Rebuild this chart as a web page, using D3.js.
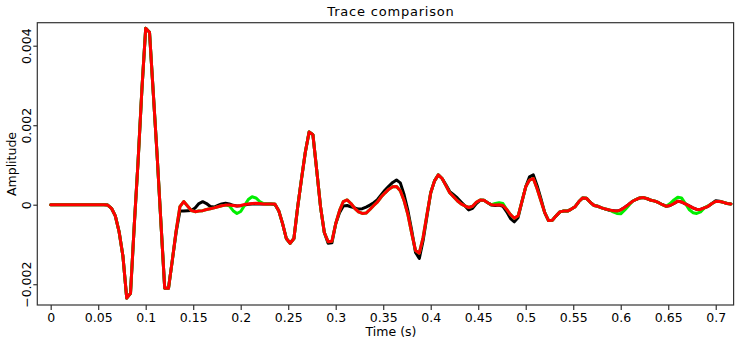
<!DOCTYPE html>
<html>
<head>
<meta charset="utf-8">
<script src="https://cdn.jsdelivr.net/npm/d3@7"></script>
<style>
  html, body { margin: 0; padding: 0; background: #fff; }
  svg { display: block; }
  text { font-family: "DejaVu Sans", sans-serif; fill: #000; }
</style>
</head>
<body>
<svg id="chart" width="736" height="341"></svg>
<script>
// ---- data ----
const sampleInterval = 0.004; // seconds between samples
const xTicks = [0, 0.05, 0.1, 0.15, 0.2, 0.25, 0.3, 0.35, 0.4, 0.45, 0.5, 0.55, 0.6, 0.65, 0.7];
const xTickLabels = ["0","0.05","0.1","0.15","0.2","0.25","0.3","0.35","0.4","0.45","0.5","0.55","0.6","0.65","0.7"];
const yTicks = [-0.002, 0, 0.002, 0.004];
const yTickLabels = ["\u22120.002", "0", "0.002", "0.004"];
const titleText = "Trace comparison";
const xLabel = "Time (s)";
const yLabel = "Amplitude";

const blackTrace = [
  0,0,0,0,0,0,0,0,0,0,
  0,0,0,0,0,-0.00001,-0.00009,-0.00028,-0.00068,-0.00129,
  -0.00235,-0.00223,-0.0005,0.0011,0.0029,0.00444,0.00434,0.0028,0.00125,-0.00044,
  -0.0021,-0.0021,-0.0014,-0.0007,-0.00016,-0.00016,-0.00015,-0.000145,-0.00008,0.00003,
  0.000075,0.00003,-0.000045,-0.00006,-0.00002,0.00002,0.000035,0.00002,-0.000015,-0.00003,
  -0.000025,-0.00001,0.00001,0.00002,0.00002,0.00002,0.00002,0.00002,0.00002,0.000005,
  -0.00015,-0.00047,-0.00085,-0.00097,-0.00085,-0.00005,0.00065,0.00132,0.00183,0.00176,
  0.00087,-0.00005,-0.0007,-0.00097,-0.00096,-0.00048,-0.0002,-0.00003,-0.00002,-0.00005,
  -0.00008,-0.00011,-0.0001,-0.00006,-0.00001,0.00005,0.00013,0.00025,0.00037,0.00047,
  0.00056,0.00062,0.00055,0.00025,-0.00015,-0.00065,-0.0012,-0.00135,-0.0009,-0.0003,
  0.0003,0.0006,0.00075,0.00066,0.0005,0.00033,0.00025,0.00017,0.00007,-0.00003,
  -0.00013,-0.00009,0.00003,0.00011,0.00011,0.00005,-0.00001,-0.00002,-0.00001,-0.00004,
  -0.00018,-0.00035,-0.00043,-0.00032,0.00008,0.00045,0.0007,0.00075,0.00048,0.00015,
  -0.0002,-0.0004,-0.00039,-0.00028,-0.00018,-0.00016,-0.00016,-0.00011,-0.00005,0.00008,
  0.00017,0.00016,0.00006,-0.00002,-0.00004,-0.00008,-0.00011,-0.00014,-0.00015,-0.00016,
  -0.00013,-0.00007,0,0.00008,0.00013,0.00017,0.00018,0.00015,0.00011,0.00009,
  0.00005,0,-0.00004,-0.00002,0.00003,0.00009,0.00007,0.00002,-0.00003,-0.00008,
  -0.00012,-0.00012,-0.00008,-0.00004,0.00003,0.0001,0.00009,0.00006,0.00003,0.00002
];

const greenTrace = [
  0,0,0,0,0,0,0,0,0,0,
  0,0,0,0,0,-0.00001,-0.00009,-0.00028,-0.00068,-0.00129,
  -0.00235,-0.00223,-0.0005,0.0011,0.0029,0.00444,0.00434,0.0028,0.00125,-0.00044,
  -0.0021,-0.0021,-0.0014,-0.00066,-0.00005,0.00008,-0.00003,-0.000145,-0.000175,-0.00016,
  -0.00015,-0.00012,-0.0001,-0.00008,-0.00005,-0.000025,-0.00001,-0.00003,-0.00015,-0.00022,
  -0.00017,-0.00002,0.00013,0.0002,0.00017,0.00008,0.00003,0.00002,0.00002,0.00002,
  -0.00015,-0.00047,-0.00085,-0.00097,-0.00085,-0.00005,0.00065,0.00132,0.00183,0.00176,
  0.00087,-0.00005,-0.0007,-0.00093,-0.00092,-0.00048,-0.00015,0.00008,0.00012,0.00003,
  -0.00009,-0.00018,-0.00022,-0.00021,-0.00012,-0.00002,0.00007,0.0002,0.0003,0.00039,
  0.00045,0.00046,0.00035,0.0001,-0.00025,-0.00072,-0.00115,-0.00122,-0.00082,-0.00025,
  0.0003,0.0006,0.00075,0.00066,0.00048,0.0003,0.0002,0.0001,0.00002,-0.00003,
  -0.00007,-0.00004,0.00006,0.00012,0.00011,0.00005,0,0.00003,0.00005,0.00003,
  -0.00012,-0.00025,-0.00034,-0.00028,0.00008,0.00045,0.00062,0.00066,0.0004,0.0001,
  -0.0002,-0.0004,-0.00039,-0.00028,-0.00018,-0.00016,-0.00016,-0.00011,-0.00005,0.00008,
  0.00017,0.00016,0.00006,-0.00002,-0.00004,-0.00008,-0.00011,-0.00013,-0.00018,-0.00022,
  -0.00023,-0.00014,-0.00003,0.00008,0.00013,0.00017,0.00018,0.00015,0.00011,0.00009,
  0.00005,0,-0.00004,0.00003,0.00012,0.00019,0.00017,0.00003,-0.00012,-0.0002,
  -0.00022,-0.00018,-0.00008,-0.00003,0.00003,0.00008,0.00008,0.00006,0.00003,0.00002
];

const redTrace = [
  0,0,0,0,0,0,0,0,0,0,
  0,0,0,0,0,-0.00001,-0.00009,-0.00028,-0.00068,-0.00129,
  -0.00235,-0.00223,-0.0005,0.0011,0.0029,0.00444,0.00434,0.0028,0.00125,-0.00044,
  -0.0021,-0.0021,-0.0014,-0.00066,-0.00005,0.00008,-0.00003,-0.000145,-0.000175,-0.00016,
  -0.00015,-0.00012,-0.0001,-0.00008,-0.00005,-0.000025,-0.00001,-0.00001,-0.00002,-0.00003,
  -0.00002,0.000005,0.00002,0.00003,0.000035,0.00003,0.00002,0.00002,0.00002,0.00002,
  -0.00015,-0.00047,-0.00085,-0.00097,-0.00085,-0.00005,0.00065,0.00132,0.00183,0.00176,
  0.00087,-0.00005,-0.0007,-0.00093,-0.00092,-0.00048,-0.00015,0.00008,0.00012,0.00003,
  -0.00009,-0.00018,-0.00022,-0.00021,-0.00012,-0.00002,0.00007,0.0002,0.0003,0.00039,
  0.00045,0.00046,0.00035,0.0001,-0.00025,-0.00072,-0.00115,-0.00122,-0.00082,-0.00025,
  0.0003,0.0006,0.00075,0.00066,0.00048,0.0003,0.0002,0.0001,0.00002,-0.00003,
  -0.00007,-0.00004,0.00006,0.00012,0.00011,0.00005,0,-0.00001,0,-0.00002,
  -0.00012,-0.00025,-0.00034,-0.00028,0.00008,0.00045,0.00062,0.00066,0.0004,0.0001,
  -0.0002,-0.0004,-0.00039,-0.00028,-0.00018,-0.00016,-0.00016,-0.00011,-0.00005,0.00008,
  0.00017,0.00016,0.00006,-0.00002,-0.00004,-0.00008,-0.00011,-0.00013,-0.00015,-0.00016,
  -0.00013,-0.00007,0,0.00008,0.00013,0.00017,0.00018,0.00015,0.00011,0.00009,
  0.00005,0,-0.00004,-0.00002,0.00003,0.00009,0.00007,0.00002,-0.00003,-0.00008,
  -0.00012,-0.00012,-0.00008,-0.00004,0.00003,0.00008,0.00008,0.00006,0.00003,0.00002
];

const seriesNames = ["black", "green", "red"];
const seriesColors = ["#000000", "#00ee00", "#ff0000"];

// ---- layout ----
const frame = { left: 37.3, right: 733.6, top: 22.7, bottom: 305 };

const svg = d3.select("#chart");

const x = d3.scaleLinear()
  .domain([-0.0141, 0.7188])
  .range([frame.left, frame.right]);
const y = d3.scaleLinear()
  .domain([-0.002523, 0.004579])
  .range([frame.bottom, frame.top]);

const times = blackTrace.map((_, i) => i * sampleInterval);
const allSeries = [blackTrace, greenTrace, redTrace];

// clip
svg.append("defs").append("clipPath").attr("id", "clip")
  .append("rect")
  .attr("x", frame.left).attr("y", frame.top)
  .attr("width", frame.right - frame.left)
  .attr("height", frame.bottom - frame.top);

const line = d3.line()
  .x((d, i) => x(times[i]))
  .y(d => y(d));

svg.append("g").attr("clip-path", "url(#clip)")
  .selectAll("path")
  .data(allSeries)
  .join("path")
  .attr("d", d => line(d))
  .attr("fill", "none")
  .attr("stroke", (d, i) => seriesColors[i])
  .attr("stroke-width", 3)
  .attr("stroke-linejoin", "round")
  .attr("stroke-linecap", "round");

// frame
svg.append("rect")
  .attr("x", frame.left).attr("y", frame.top)
  .attr("width", frame.right - frame.left)
  .attr("height", frame.bottom - frame.top)
  .attr("fill", "none")
  .attr("stroke", "#333")
  .attr("stroke-width", 1.2);

// x axis
const xAxis = d3.axisBottom(x)
  .tickValues(xTicks)
  .tickFormat((d, i) => xTickLabels[i])
  .tickSize(5)
  .tickPadding(3);
const gx = svg.append("g")
  .attr("transform", `translate(0,${frame.bottom})`)
  .call(xAxis);
gx.select(".domain").remove();
gx.selectAll(".tick line").attr("stroke", "#333").attr("stroke-width", 1.2);
gx.selectAll(".tick text")
  .attr("font-family", "DejaVu Sans, sans-serif")
  .attr("font-size", 12.5)
  .attr("fill", "#000");

// y axis
const yAxis = d3.axisLeft(y)
  .tickValues(yTicks)
  .tickFormat((d, i) => yTickLabels[i])
  .tickSize(4);
const gy = svg.append("g")
  .attr("transform", `translate(${frame.left},0)`)
  .call(yAxis);
gy.select(".domain").remove();
gy.selectAll(".tick line").attr("stroke", "#333").attr("stroke-width", 1.2);
gy.selectAll(".tick text")
  .attr("font-family", "DejaVu Sans, sans-serif")
  .attr("font-size", 12.5)
  .attr("fill", "#000")
  .attr("x", null).attr("dy", null)
  .attr("text-anchor", "middle")
  .attr("transform", "translate(-6,0) rotate(-90)");

// titles
svg.append("text")
  .attr("x", 391).attr("y", 15.5)
  .attr("text-anchor", "middle")
  .attr("font-size", 13)
  .attr("letter-spacing", 0.8)
  .text(titleText);

svg.append("text")
  .attr("x", 391).attr("y", 335.5)
  .attr("text-anchor", "middle")
  .attr("font-size", 12.5)
  .text(xLabel);

svg.append("text")
  .attr("transform", "translate(16,164) rotate(-90)")
  .attr("text-anchor", "middle")
  .attr("font-size", 12.5)
  .text(yLabel);
</script>
</body>
</html>
